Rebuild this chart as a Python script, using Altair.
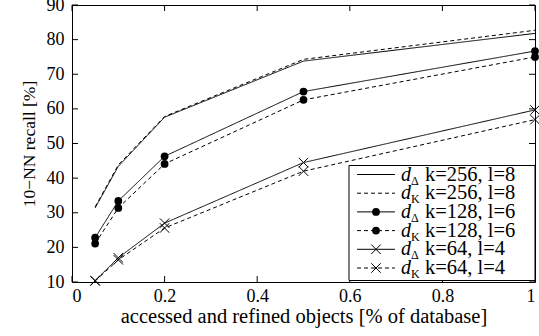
import altair as alt
import pandas as pd

# ---- data ----
xs = [0.05, 0.1, 0.2, 0.5, 1.0]
series_names = ["dD_256", "dK_256", "dD_128", "dK_128", "dD_64", "dK_64"]
series_dash = ["solid", "dashed", "solid", "dashed", "solid", "dashed"]
series_marker = ["none", "none", "circle", "circle", "cross", "cross"]
series_sub = ["Δ", "K", "Δ", "K", "Δ", "K"]
series_label = ["k=256, l=8", "k=256, l=8", "k=128, l=6", "k=128, l=6", "k=64, l=4", "k=64, l=4"]
values = [
    [31.4, 43.4, 57.6, 73.8, 81.8],   # d_Delta k=256 l=8
    [31.7, 43.8, 57.8, 74.3, 82.7],   # d_K k=256 l=8
    [22.8, 33.4, 46.3, 65.0, 76.7],   # d_Delta k=128 l=6
    [21.1, 31.4, 44.1, 62.6, 75.0],   # d_K k=128 l=6
    [10.4, 17.0, 27.0, 44.5, 59.7],   # d_Delta k=64 l=4
    [10.3, 16.4, 25.6, 42.0, 56.9],   # d_K k=64 l=4
]
x_ticks = [0, 0.2, 0.4, 0.6, 0.8, 1.0]
y_ticks = [10, 20, 30, 40, 50, 60, 70, 80, 90]

rows = []
for i, name in enumerate(series_names):
    for x, y in zip(xs, values[i]):
        rows.append({"series": name, "x": x, "y": y,
                     "dash": series_dash[i], "marker": series_marker[i]})
df = pd.DataFrame(rows)

leg = pd.DataFrame({
    "idx": list(range(6)),
    "dash": series_dash,
    "marker": series_marker,
    "sub": series_sub,
    "label": series_label,
})

W, H = 463, 277
SERIF = "Liberation Serif"

xscale = alt.Scale(domain=[0, 1], nice=False, zero=False)
yscale = alt.Scale(domain=[10, 90], nice=False, zero=False)
dash_scale = alt.Scale(domain=["solid", "dashed"], range=[[1, 0], [4, 3]])
XPATH = "M-1,-1L1,1M-1,1L1,-1"

xaxis = alt.Axis(values=x_ticks, format="~g", ticks=False, grid=False, domain=False,
                 labelFont=SERIF, labelFontSize=18, labelColor="black", labelPadding=5,
                 title="accessed and refined objects [% of database]",
                 titleFont=SERIF, titleFontSize=20.5, titleFontWeight="normal",
                 titleColor="black", titlePadding=1)
yaxis = alt.Axis(values=y_ticks, ticks=False, grid=False, domain=False,
                 labelFont=SERIF, labelFontSize=18, labelColor="black", labelPadding=8,
                 title="10−NN recall [%]",
                 titleFont=SERIF, titleFontSize=17.5, titleFontWeight="normal",
                 titleColor="black", titlePadding=8)


def X(field):
    return alt.X(field, scale=xscale, axis=xaxis, title="accessed and refined objects [% of database]")


def Y(field):
    return alt.Y(field, scale=yscale, axis=yaxis, title="10−NN recall [%]")


base = alt.Chart(df)

lines = base.mark_line(color="black", strokeWidth=1).encode(
    x=X("x:Q"), y=Y("y:Q"),
    detail="series:N",
    strokeDash=alt.StrokeDash("dash:N", scale=dash_scale, legend=None),
)

circles = base.transform_filter(alt.datum.marker == "circle").mark_point(
    shape="circle", filled=True, color="black", size=60, opacity=1
).encode(x=X("x:Q"), y=Y("y:Q"))

crosses = base.transform_filter(alt.datum.marker == "cross").mark_point(
    shape=XPATH, filled=False, color="black", size=90, strokeWidth=1, opacity=1
).encode(x=X("x:Q"), y=Y("y:Q"))

# inward ticks on all four sides
ydf = pd.DataFrame({"y": y_ticks})
xdf = pd.DataFrame({"x": x_ticks})
tick_l = alt.Chart(ydf).mark_rule(color="black", strokeWidth=1).encode(
    y=Y("y:Q"), x=alt.value(0), x2=alt.value(6))
tick_r = alt.Chart(ydf).mark_rule(color="black", strokeWidth=1).encode(
    y=Y("y:Q"), x=alt.value(W - 6), x2=alt.value(W))
tick_b = alt.Chart(xdf).mark_rule(color="black", strokeWidth=1).encode(
    x=X("x:Q"), y=alt.value(H - 6), y2=alt.value(H))
tick_t = alt.Chart(xdf).mark_rule(color="black", strokeWidth=1).encode(
    x=X("x:Q"), y=alt.value(0), y2=alt.value(6))

# custom legend
LX0, LY0 = 277, 160.5
box = alt.Chart(pd.DataFrame({"a": [0]})).mark_rect(
    fill="white", stroke="black", strokeWidth=1
).encode(x=alt.value(LX0), x2=alt.value(W), y=alt.value(LY0), y2=alt.value(H - 1.5))

lbase = alt.Chart(leg).transform_calculate(ly="169.5 + 18.7 * datum.idx")
leg_lines = lbase.mark_rule(color="black", strokeWidth=1).encode(
    x=alt.value(285), x2=alt.value(323),
    y=alt.Y("ly:Q", scale=None),
    strokeDash=alt.StrokeDash("dash:N", scale=dash_scale, legend=None),
)
leg_circ = lbase.transform_filter(alt.datum.marker == "circle").mark_point(
    shape="circle", filled=True, color="black", size=60, opacity=1
).encode(x=alt.value(304), y=alt.Y("ly:Q", scale=None))
leg_cross = lbase.transform_filter(alt.datum.marker == "cross").mark_point(
    shape=XPATH, filled=False, color="black", size=90, strokeWidth=1, opacity=1
).encode(x=alt.value(304), y=alt.Y("ly:Q", scale=None))
leg_d = lbase.mark_text(font=SERIF, fontSize=20, fontStyle="italic", align="left",
                        baseline="middle", color="black").encode(
    x=alt.value(329), y=alt.Y("ly:Q", scale=None), text=alt.value("d"))
leg_sub = lbase.transform_calculate(ly2="datum.ly + 6").mark_text(
    font=SERIF, fontSize=12, align="left", baseline="middle", color="black").encode(
    x=alt.value(339), y=alt.Y("ly2:Q", scale=None), text="sub:N")
leg_txt = lbase.mark_text(font=SERIF, fontSize=20.5, align="left",
                          baseline="middle", color="black").encode(
    x=alt.value(353), y=alt.Y("ly:Q", scale=None), text="label:N")

chart = alt.layer(
    lines, circles, crosses, tick_l, tick_r, tick_b, tick_t,
    box, leg_lines, leg_circ, leg_cross, leg_d, leg_sub, leg_txt
).properties(
    width=W, height=H,
    autosize=alt.AutoSizeParams(type="none"),
    padding={"left": 72, "top": 5, "right": 4, "bottom": 54},
    background="white",
).configure_view(stroke="black", strokeWidth=1)

chart.save("out.html", embed_options={"renderer": "svg", "actions": False})
